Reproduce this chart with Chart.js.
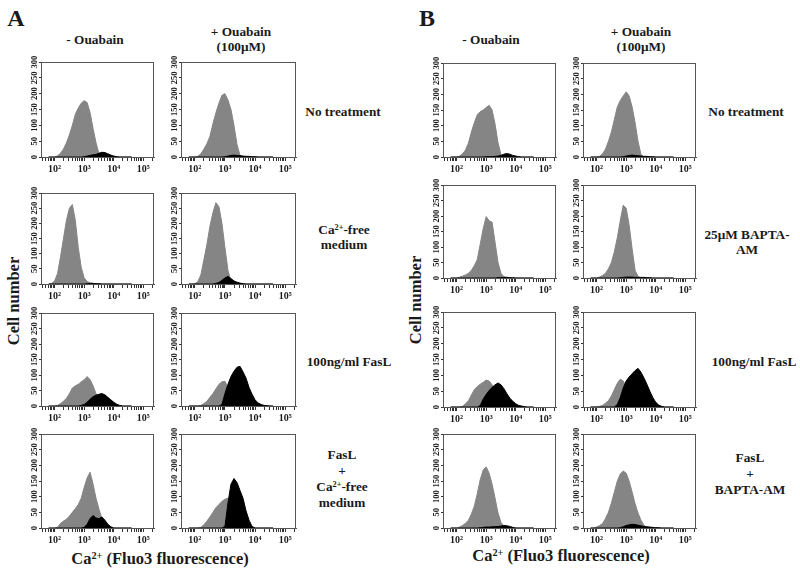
<!DOCTYPE html>
<html lang="en">
<head>
<meta charset="UTF-8">
<title>Ca2+ (Fluo3) histograms</title>
<script src="https://cdn.jsdelivr.net/npm/chart.js"></script>
<style>
  body { margin: 0; background: #fff; }
  #fig { position: relative; width: 800px; height: 570px; overflow: hidden;
         font-family: "Liberation Serif", "Times New Roman", serif; font-weight: bold; color: #1a1a1a; }
  #fig canvas { position: absolute; }
  .t { position: absolute; transform: translate(-50%, -50%); white-space: nowrap; text-align: center; }
  .r { font-size: 13.3px; }
  sup { font-size: 62%; vertical-align: 0.5em; line-height: 0; }
</style>
</head>
<body>
<div id="fig">
  <div class="t" style="left:16px;top:18px;font-size:24px">A</div>
  <div class="t" style="left:427px;top:18px;font-size:24px">B</div>

  <div class="t r" style="left:95px;top:40px">- Ouabain</div>
  <div class="t r" style="left:241px;top:39px;line-height:15px">+ Ouabain<br>(100μM)</div>
  <div class="t r" style="left:491px;top:40px">- Ouabain</div>
  <div class="t r" style="left:641px;top:39px;line-height:15px">+ Ouabain<br>(100μM)</div>

  <div class="t r" style="left:343px;top:112px">No treatment</div>
  <div class="t r" style="left:344px;top:237px;line-height:15px">Ca<sup>2+</sup>-free<br>medium</div>
  <div class="t r" style="left:349px;top:362px">100ng/ml FasL</div>
  <div class="t r" style="left:342px;top:479px;line-height:16px">FasL<br>+<br>Ca<sup>2+</sup>-free<br>medium</div>

  <div class="t r" style="left:746px;top:112px">No treatment</div>
  <div class="t r" style="left:747px;top:242px;line-height:15px">25μM BAPTA-<br>AM</div>
  <div class="t r" style="left:754px;top:362px">100ng/ml FasL</div>
  <div class="t r" style="left:750px;top:474px;line-height:16px">FasL<br>+<br>BAPTA-AM</div>

  <div class="t" style="left:14px;top:301px;font-size:16.5px;transform:translate(-50%,-50%) rotate(-90deg)">Cell number</div>
  <div class="t" style="left:416px;top:300px;font-size:16.5px;transform:translate(-50%,-50%) rotate(-90deg)">Cell number</div>
  <div class="t" style="left:160px;top:559px;font-size:16.5px">Ca<sup>2+</sup> (Fluo3 fluorescence)</div>
  <div class="t" style="left:561px;top:556px;font-size:16.5px">Ca<sup>2+</sup> (Fluo3 fluorescence)</div>
</div>

<script>
// histogram bins, log10 of fluorescence
const logBins = [1.8, 1.9, 2.0, 2.1, 2.2, 2.3, 2.4, 2.5, 2.6, 2.7, 2.8, 2.9, 3.0, 3.1, 3.2,
                 3.3, 3.4, 3.5, 3.6, 3.7, 3.8, 3.9, 4.0, 4.1, 4.2, 4.3, 4.4, 4.5, 4.6];
const xMajor = [2, 3, 4, 5];
const xMajorLabels = ['10²', '10³', '10⁴', '10⁵'];
const yMax = 300;
const yStep = 50;

// panel A
const aNoTreatGray      = [0,0,0,4,12,25,45,70,100,135,155,170,178,172,140,90,45,10,0,0,0,0,0,0,0,0,0,0,0];
const aNoTreatBlack     = [0,0,0,0,0,0,0,0,0,0,0,0,1,3,5,7,8,12,15,14,10,6,3,1,0,0,0,0,0];
const aNoTreatOuaGray   = [0,0,0,2,10,25,42,65,105,140,170,195,200,180,150,100,40,5,0,0,0,0,0,0,0,0,0,0,0];
const aNoTreatOuaBlack  = [0,0,0,0,0,0,0,0,0,0,0,0,1,3,5,6,5,4,3,2,2,1,1,0,0,0,0,0,0];
const aCaFreeGray       = [0,2,10,35,90,150,210,250,262,210,120,55,20,8,4,2,1,0,0,0,0,0,0,0,0,0,0,0,0];
const aCaFreeBlack      = [0,0,0,0,0,0,0,0,0,0,0,0,0,1,2,2,1,1,0,0,0,0,0,0,0,0,0,0,0];
const aCaFreeOuaGray    = [0,0,1,8,30,80,130,190,235,268,255,200,120,45,10,2,0,0,0,0,0,0,0,0,0,0,0,0,0];
const aCaFreeOuaBlack   = [0,0,0,0,0,0,0,0,0,2,5,12,20,25,18,10,6,3,1,0,0,0,0,0,0,0,0,0,0];
const aFasLGray         = [0,0,0,2,8,15,25,40,58,65,70,78,85,95,85,65,40,20,8,3,0,0,0,0,0,0,0,0,0];
const aFasLBlack        = [0,0,0,0,0,0,0,0,0,0,0,2,5,12,22,30,35,38,40,36,28,20,12,6,2,0,0,0,0];
const aFasLOuaGray      = [0,0,0,0,2,8,15,28,40,55,70,78,80,60,30,10,0,0,0,0,0,0,0,0,0,0,0,0,0];
const aFasLOuaBlack     = [0,0,0,0,0,0,0,0,0,0,0,5,40,70,95,112,125,128,110,90,60,38,20,10,5,2,1,0,0];
const aFasLCaGray       = [0,0,0,2,15,22,28,38,50,62,75,95,130,160,178,140,95,60,30,8,0,0,0,0,0,0,0,0,0];
const aFasLCaBlack      = [0,0,0,0,0,0,0,0,0,0,0,0,2,12,30,40,32,30,35,25,12,4,0,0,0,0,0,0,0];
const aFasLCaOuaGray    = [0,0,0,0,2,10,22,35,50,65,75,85,92,95,70,30,5,0,0,0,0,0,0,0,0,0,0,0,0];
const aFasLCaOuaBlack   = [0,0,0,0,0,0,0,0,0,0,0,0,5,80,140,158,145,120,95,55,25,5,0,0,0,0,0,0,0];

// panel B
const bNoTreatGray      = [0,0,0,3,10,22,45,80,110,135,145,150,158,165,150,105,45,8,0,0,0,0,0,0,0,0,0,0,0];
const bNoTreatBlack     = [0,0,0,0,0,0,0,0,0,0,0,0,1,1,1,2,3,5,9,11,9,5,3,1,0,0,0,0,0];
const bNoTreatOuaGray   = [0,0,0,2,10,25,50,80,120,160,180,195,208,195,160,110,50,8,0,0,0,0,0,0,0,0,0,0,0];
const bNoTreatOuaBlack  = [0,0,0,0,0,0,0,0,0,0,0,1,3,5,6,5,4,3,2,2,1,1,0,0,0,0,0,0,0];
const bBaptaGray        = [0,0,0,3,6,10,15,25,40,60,110,160,198,185,180,115,50,15,4,2,1,0,0,0,0,0,0,0,0];
const bBaptaBlack       = [0,0,0,0,0,0,0,0,0,0,0,0,0,0,0,0,1,1,2,2,1,1,0,0,0,0,0,0,0];
const bBaptaOuaGray     = [0,0,0,3,8,15,30,50,85,130,185,235,225,170,95,25,5,0,0,0,0,0,0,0,0,0,0,0,0];
const bBaptaOuaBlack    = [0,0,0,0,0,0,0,0,0,0,1,2,3,3,3,2,2,2,2,1,1,0,0,0,0,0,0,0,0];
const bFasLGray         = [0,0,0,0,2,10,20,38,55,65,72,78,85,82,70,50,25,10,2,0,0,0,0,0,0,0,0,0,0];
const bFasLBlack        = [0,0,0,0,0,0,0,0,0,0,5,25,40,52,62,70,76,70,58,42,28,18,10,5,3,1,0,0,0];
const bFasLOuaGray      = [0,0,0,2,5,12,20,35,55,75,88,82,65,40,15,3,0,0,0,0,0,0,0,0,0,0,0,0,0];
const bFasLOuaBlack     = [0,0,0,0,0,0,0,0,0,8,30,60,82,95,105,115,122,110,92,72,50,30,15,6,2,0,0,0,0];
const bFasLBaptaGray    = [0,0,0,3,8,15,25,45,70,110,155,185,195,175,140,95,48,18,5,1,0,0,0,0,0,0,0,0,0];
const bFasLBaptaBlack   = [0,0,0,0,0,0,0,0,0,0,1,2,3,3,4,4,5,6,8,7,5,2,0,0,0,0,0,0,0];
const bFasLBaptaOuaGray = [0,0,3,8,14,30,50,80,115,150,172,182,175,150,115,78,48,25,8,2,0,0,0,0,0,0,0,0,0];
const bFasLBaptaOuaBlack= [0,0,0,0,0,0,0,0,0,0,1,4,8,10,12,11,9,7,5,4,3,2,1,1,0,0,0,0,0];

const X_MIN = 1.54, X_MAX = 5.36;
const GRAY = '#858585';
const FONT = '"Liberation Serif", "Times New Roman", serif';

// plot box: [left, top, right, bottom] in page pixels
const panels = [
  { box: [41, 62, 154, 157],   gray: aNoTreatGray,    black: aNoTreatBlack },
  { box: [181, 62, 296, 157],  gray: aNoTreatOuaGray, black: aNoTreatOuaBlack },
  { box: [41, 193, 154, 284],  gray: aCaFreeGray,     black: aCaFreeBlack },
  { box: [181, 193, 296, 284], gray: aCaFreeOuaGray,  black: aCaFreeOuaBlack },
  { box: [41, 313, 154, 406],  gray: aFasLGray,       black: aFasLBlack },
  { box: [181, 313, 296, 406], gray: aFasLOuaGray,    black: aFasLOuaBlack },
  { box: [41, 434, 154, 528],  gray: aFasLCaGray,     black: aFasLCaBlack },
  { box: [181, 434, 296, 528], gray: aFasLCaOuaGray,  black: aFasLCaOuaBlack },

  { box: [443, 63, 556, 157],  gray: bNoTreatGray,    black: bNoTreatBlack },
  { box: [583, 63, 696, 157],  gray: bNoTreatOuaGray, black: bNoTreatOuaBlack },
  { box: [443, 185, 556, 278], gray: bBaptaGray,      black: bBaptaBlack },
  { box: [583, 185, 696, 278], gray: bBaptaOuaGray,   black: bBaptaOuaBlack },
  { box: [443, 312, 556, 407], gray: bFasLGray,       black: bFasLBlack },
  { box: [583, 312, 696, 407], gray: bFasLOuaGray,    black: bFasLOuaBlack },
  { box: [443, 434, 556, 528], gray: bFasLBaptaGray,  black: bFasLBaptaBlack },
  { box: [583, 434, 696, 528], gray: bFasLBaptaOuaGray, black: bFasLBaptaOuaBlack }
];

const Y_AXIS_W = 16, X_AXIS_H = 24, PAD_T = 8, PAD_R = 8;

const boxFrame = {
  id: 'boxFrame',
  afterDraw(chart) {
    const { ctx, chartArea: a } = chart;
    ctx.save();
    ctx.strokeStyle = '#555';
    ctx.lineWidth = 1;
    ctx.strokeRect(Math.round(a.left) + 0.5, Math.round(a.top) + 0.5,
                   Math.round(a.right - a.left) - 1, Math.round(a.bottom - a.top));
    ctx.restore();
  }
};

function toPoints(arr) {
  return arr.map((v, i) => ({ x: logBins[i], y: v }));
}

const fig = document.getElementById('fig');

panels.forEach(p => {
  const [l, t, r, b] = p.box;
  const cv = document.createElement('canvas');
  cv.width = (r - l) + Y_AXIS_W + PAD_R;
  cv.height = (b - t) + PAD_T + X_AXIS_H;
  cv.style.left = (l - Y_AXIS_W) + 'px';
  cv.style.top = (t - PAD_T) + 'px';
  fig.appendChild(cv);

  new Chart(cv, {
    type: 'line',
    data: {
      datasets: [
        { data: toPoints(p.black), backgroundColor: '#000', borderColor: '#000', borderWidth: 1,
          fill: 'origin', pointRadius: 0, order: 0 },
        { data: toPoints(p.gray), backgroundColor: GRAY, borderColor: GRAY, borderWidth: 1,
          fill: 'origin', pointRadius: 0, order: 1 }
      ]
    },
    options: {
      responsive: false,
      animation: false,
      events: [],
      layout: { padding: { top: PAD_T, right: PAD_R, left: 0, bottom: 0 } },
      plugins: { legend: { display: false }, tooltip: { enabled: false } },
      scales: {
        x: {
          type: 'linear',
          min: X_MIN,
          max: X_MAX,
          afterFit: s => { s.height = X_AXIS_H; },
          afterBuildTicks: s => {
            const ticks = [];
            for (let d = 1; d <= 5; d++) {
              for (let k = 1; k <= 9; k++) {
                const v = d + Math.log10(k);
                if (v >= X_MIN && v <= X_MAX) ticks.push({ value: v });
              }
            }
            s.ticks = ticks;
          },
          ticks: {
            autoSkip: false,
            maxRotation: 0,
            padding: 2,
            color: '#1a1a1a',
            font: { family: FONT, size: 10, weight: 'bold' },
            callback: v => {
              const i = xMajor.indexOf(v);
              return i >= 0 ? xMajorLabels[i] : '';
            }
          },
          grid: { drawOnChartArea: false, tickLength: 4, color: '#333' },
          border: { color: '#555' }
        },
        y: {
          min: 0,
          max: yMax,
          afterFit: s => { s.width = Y_AXIS_W; },
          ticks: {
            stepSize: yStep,
            autoSkip: false,
            minRotation: 90,
            maxRotation: 90,
            crossAlign: 'center',
            padding: -2,
            color: '#1a1a1a',
            font: { family: FONT, size: 8.5, weight: 'bold' }
          },
          grid: { drawOnChartArea: false, tickLength: 2, color: '#333' },
          border: { color: '#555' }
        }
      }
    },
    plugins: [boxFrame]
  });
});
</script>
</body>
</html>
